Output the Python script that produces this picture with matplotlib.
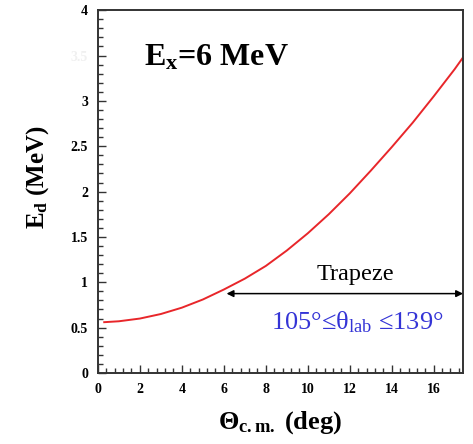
import numpy as np
import matplotlib
matplotlib.use("Agg")
import matplotlib.pyplot as plt
from matplotlib.ticker import MultipleLocator

plt.rcParams['font.family'] = ['Liberation Serif', 'DejaVu Serif']
plt.rcParams['mathtext.fontset'] = 'custom'
plt.rcParams['mathtext.rm'] = 'Liberation Serif'
plt.rcParams['mathtext.it'] = 'Liberation Serif:italic'
plt.rcParams['mathtext.bf'] = 'Liberation Serif:bold'

# deuteron energy vs c.m. angle, Ex = 6 MeV
theta_cm = [0.3, 1, 2, 3, 4, 5, 6, 7, 8, 9, 10, 11, 12, 13, 14, 15, 16, 17, 17.4]
e_d = [0.56, 0.57, 0.60, 0.65, 0.72, 0.81, 0.92, 1.04, 1.18, 1.35, 1.54,
       1.75, 1.98, 2.23, 2.49, 2.76, 3.05, 3.35, 3.48]

# trapeze coverage in c.m. angle
trap_lo = 6.13
trap_hi = 17.4
trap_e = 0.875

fig = plt.figure(figsize=(4.73, 4.44), dpi=100)
ax = fig.add_axes([0.207, 0.160, 0.772, 0.817])

ax.plot(theta_cm, e_d, color='#e8262a', lw=1.4)

ax.annotate('', xy=(trap_lo, trap_e), xytext=(trap_hi, trap_e),
            arrowprops=dict(arrowstyle='<|-|>', color='black', lw=1.1,
                            mutation_scale=10, shrinkA=0, shrinkB=0))
ax.text(12.25, 1.09, 'Trapeze', fontsize=17.5, ha='center', va='center')
ax.text(12.35, 0.565, r'105°≤θ$_{\mathrm{lab}}$ ≤139°', fontsize=19,
        color='#3434d6', ha='center', va='center')
ax.text(2.2, 3.39, r'E$_{\mathbf{x}}$=6 MeV', fontsize=23, fontweight='bold',
        ha='left', va='baseline')

ax.set_xlim(0, 17.4)
ax.set_ylim(0, 4)
ax.xaxis.set_major_locator(MultipleLocator(2))
ax.xaxis.set_minor_locator(MultipleLocator(0.4))
ax.yaxis.set_major_locator(MultipleLocator(0.5))
ax.yaxis.set_minor_locator(MultipleLocator(0.1))
ax.set_xticks(np.arange(0, 17, 2))
ax.set_xticklabels([str(v) for v in range(0, 17, 2)])
yt = np.arange(0, 4.01, 0.5)
ax.set_yticks(yt)
ax.set_yticklabels(['0', '0.5', '1', '1.5', '2', '2.5', '3', '3.5', '4'])
ax.get_yticklabels()[7].set_color('#f0f0f0')

ax.tick_params(which='both', direction='in', top=False, right=False,
               color='#333333', width=1.0)
ax.tick_params(which='major', length=6, pad=7, labelsize=10)
ax.tick_params(which='minor', length=3.5)
for lab in ax.get_xticklabels() + ax.get_yticklabels():
    lab.set_fontweight('bold')
for sp in ax.spines.values():
    sp.set_color('#333333')
    sp.set_linewidth(1.4)

ax.set_xlabel(r'Θ$_{\mathbf{c.m.}}$ (deg)', fontsize=19, fontweight='bold',
              labelpad=10)
ax.set_ylabel(r'E$_{\mathbf{d}}$ (MeV)', fontsize=18, fontweight='bold')
ax.yaxis.set_label_coords(-0.128, 0.54)

fig.savefig('out.png', dpi=100)
